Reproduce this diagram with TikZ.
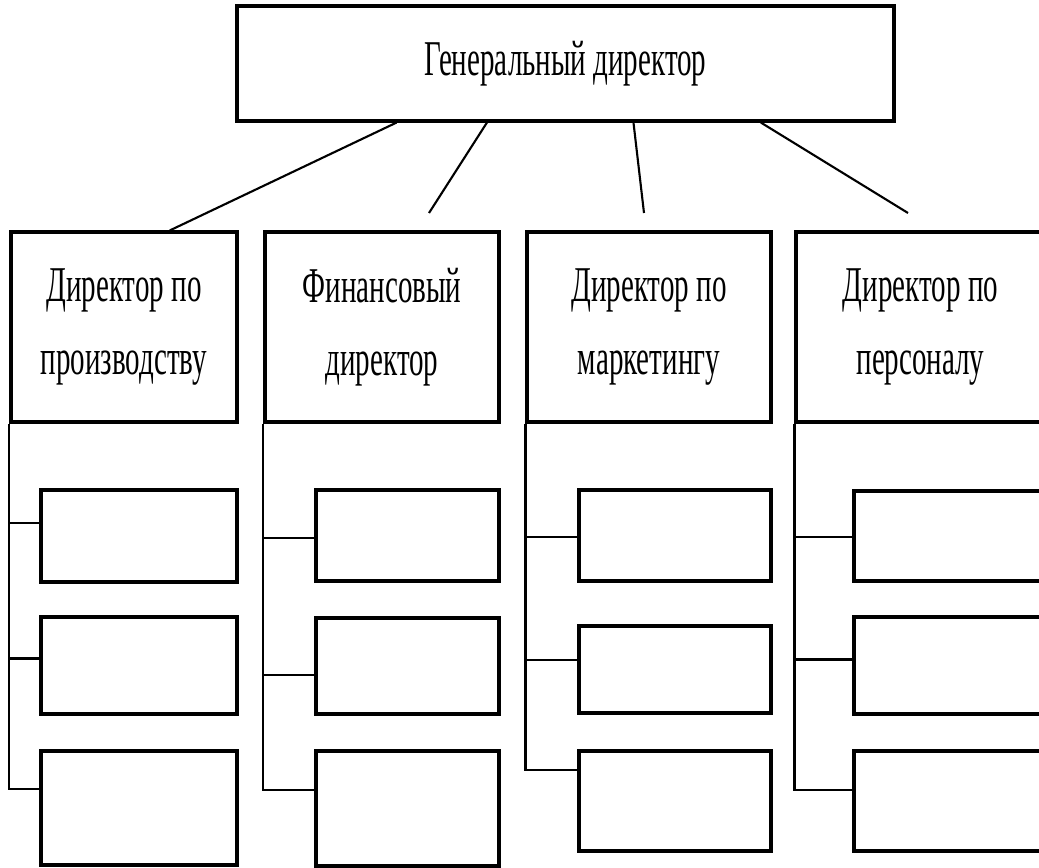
\documentclass[tikz,border=0pt]{standalone}
\usepackage{fontspec}
\setmainfont{Liberation Serif}[FakeStretch=0.58]
\usetikzlibrary{calc}

\begin{document}
\begin{tikzpicture}
	[x=0.02cm,y=-0.02cm,
	box/.style={rectangle,draw=black,line width=1.8pt,inner sep=0pt},
	head/.style={box,align=center,font=\fontsize{28.5}{41.5}\selectfont},
	link/.style={line width=1.2pt}]
	\useasboundingbox (0,0) rectangle (1039,868);
	\clip (0,0) rectangle (1039,868);
	% top
	\node[head,minimum width=13.14cm,minimum height=2.3cm] (gd) at (565.5,63.5) {Генеральный директор};
	% directors
	\node[head,minimum width=4.52cm,minimum height=3.8cm] (h1) at (124,327) {Директор по\\производству};
	\node[head,minimum width=4.68cm,minimum height=3.8cm] (h2) at (382,327) {Финансовый\\директор};
	\node[head,minimum width=4.88cm,minimum height=3.8cm] (h3) at (649,327) {Директор по\\маркетингу};
	\node[head,minimum width=4.98cm,minimum height=3.8cm] (h4) at (920.5,327) {Директор по\\персоналу};
	% empty boxes
	\node[box,minimum width=3.92cm,minimum height=1.84cm] (s11) at (139,536) {};
	\node[box,minimum width=3.92cm,minimum height=1.94cm] (s12) at (139,665.5) {};
	\node[box,minimum width=3.92cm,minimum height=2.28cm] (s13) at (139,808) {};
	\node[box,minimum width=3.66cm,minimum height=1.82cm] (s21) at (407.5,535.5) {};
	\node[box,minimum width=3.66cm,minimum height=1.92cm] (s22) at (407.5,666) {};
	\node[box,minimum width=3.66cm,minimum height=2.30cm] (s23) at (407.5,808.5) {};
	\node[box,minimum width=3.84cm,minimum height=1.82cm] (s31) at (675,535.5) {};
	\node[box,minimum width=3.84cm,minimum height=1.74cm] (s32) at (675,669.5) {};
	\node[box,minimum width=3.84cm,minimum height=2.00cm] (s33) at (675,801) {};
	\node[box,minimum width=3.82cm,minimum height=1.80cm] (s41) at (949.5,536) {};
	\node[box,minimum width=3.82cm,minimum height=1.94cm] (s42) at (949.5,665.5) {};
	\node[box,minimum width=3.82cm,minimum height=2.00cm] (s43) at (949.5,801) {};
	% links to the top
	\coordinate (e2) at (429,213);
	\coordinate (e3) at (644,213);
	\coordinate (e4) at (908,213);
	\draw[link] ($(gd.south west)!0.244!(gd.south east)$) -- ($(h1.north west)!0.70!(h1.north east)$);
	\draw[link] ($(gd.south west)!0.381!(gd.south east)$) -- (e2);
	\draw[link] ($(gd.south west)!0.603!(gd.south east)$) -- (e3);
	\draw[link] ($(gd.south west)!0.796!(gd.south east)$) -- (e4);
	% links down
	\foreach \c/\fa/\fb/\fc in {1/0.36/0.43/0.34,2/0.53/0.59/0.34,3/0.52/0.39/0.2,4/0.51/0.44/0.39}{
		\draw[link] (h\c.south west) |- ($(s\c1.north west)!\fa!(s\c1.south west)$);
		\draw[link] (h\c.south west) |- ($(s\c2.north west)!\fb!(s\c2.south west)$);
		\draw[link] (h\c.south west) |- ($(s\c3.north west)!\fc!(s\c3.south west)$);
	}
\end{tikzpicture}
\end{document}
